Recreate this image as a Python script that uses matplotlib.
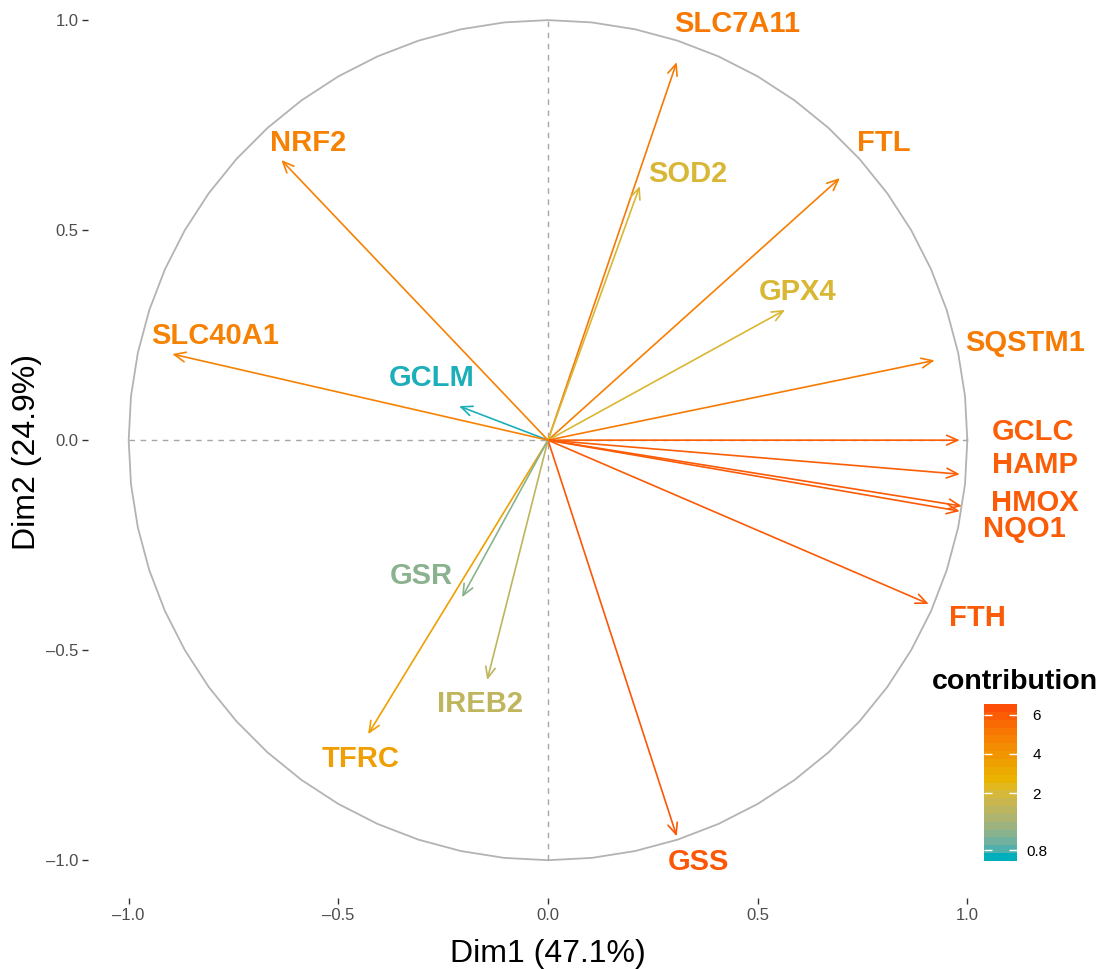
import numpy as np
import matplotlib
matplotlib.use("Agg")
import matplotlib.pyplot as plt
from matplotlib.colors import ListedColormap, FuncNorm, to_rgb
import matplotlib.cm as cm

# ---- data ----
genes = ["SLC7A11", "FTL", "SOD2", "GPX4", "SQSTM1", "GCLC", "HAMP", "HMOX",
         "NQO1", "FTH", "GSS", "IREB2", "TFRC", "GSR", "GCLM", "SLC40A1", "NRF2"]
dim1 = [0.307, 0.696, 0.219, 0.565, 0.922, 0.982, 0.982, 0.987,
        0.982, 0.908, 0.307, -0.145, -0.429, -0.205, -0.212, -0.896, -0.636]
dim2 = [0.900, 0.624, 0.605, 0.310, 0.190, 0.000, -0.081, -0.157,
        -0.169, -0.390, -0.943, -0.571, -0.700, -0.374, 0.081, 0.205, 0.667]
contrib = [5.2, 5.0, 2.0, 2.05, 5.1, 6.1, 6.1, 6.2,
           6.2, 6.2, 6.3, 1.65, 3.66, 1.1, 0.6, 4.85, 4.87]
# label placement (repelled positions)
lab_x = [0.451, 0.801, 0.334, 0.594, 1.137, 1.156, 1.161, 1.161,
         1.137, 1.023, 0.358, -0.162, -0.448, -0.303, -0.277, -0.794, -0.572]
lab_y = [0.990, 0.707, 0.633, 0.352, 0.231, 0.019, -0.060, -0.150,
         -0.212, -0.424, -1.005, -0.629, -0.760, -0.324, 0.148, 0.248, 0.707]
cbar_ticks = [0.8, 2, 4, 6]
cbar_ticklabels = ["0.8", "2", "4", "6"]
grad_colors = ["#00AFBB", "#E7B800", "#FC4E07"]

plt.rcParams['font.family'] = ['Liberation Sans', 'DejaVu Sans']


# ---- Lab-space gradient (like ggplot's gradientn) ----
def _srgb_to_lab(rgb):
    rgb = np.asarray(rgb, float)
    lin = np.where(rgb <= 0.04045, rgb / 12.92, ((rgb + 0.055) / 1.055) ** 2.4)
    M = np.array([[0.4124, 0.3576, 0.1805],
                  [0.2126, 0.7152, 0.0722],
                  [0.0193, 0.1192, 0.9505]])
    xyz = lin @ M.T
    wp = np.array([0.95047, 1.0, 1.08883])
    r = xyz / wp
    f = np.where(r > (6 / 29) ** 3, np.cbrt(r), r / (3 * (6 / 29) ** 2) + 4 / 29)
    L = 116 * f[..., 1] - 16
    a = 500 * (f[..., 0] - f[..., 1])
    b = 200 * (f[..., 1] - f[..., 2])
    return np.stack([L, a, b], -1)


def _lab_to_srgb(lab):
    lab = np.asarray(lab, float)
    fy = (lab[..., 0] + 16) / 116
    fx = fy + lab[..., 1] / 500
    fz = fy - lab[..., 2] / 200
    f = np.stack([fx, fy, fz], -1)
    d = 6 / 29
    r = np.where(f > d, f ** 3, 3 * d ** 2 * (f - 4 / 29))
    xyz = r * np.array([0.95047, 1.0, 1.08883])
    Minv = np.array([[3.2406, -1.5372, -0.4986],
                     [-0.9689, 1.8758, 0.0415],
                     [0.0557, -0.2040, 1.0570]])
    lin = xyz @ Minv.T
    lin = np.clip(lin, 0, 1)
    rgb = np.where(lin <= 0.0031308, 12.92 * lin, 1.055 * lin ** (1 / 2.4) - 0.055)
    return np.clip(rgb, 0, 1)


def lab_cmap(colors, n):
    labs = _srgb_to_lab([to_rgb(c) for c in colors])
    stops = np.linspace(0, 1, len(colors))
    tt = np.linspace(0, 1, n)
    out = np.stack([np.interp(tt, stops, labs[:, k]) for k in range(3)], -1)
    return ListedColormap(_lab_to_srgb(out))


cmap = lab_cmap(grad_colors, 256)
cmap_bar = lab_cmap(grad_colors, 20)

# color guide scale (piecewise)
_vals = np.array([0.57, 0.8, 2.0, 4.0, 6.0, 6.56])
_pos = np.array([0.0, 0.07, 0.433, 0.682, 0.93, 1.0])
def _fwd(v):
    return np.interp(v, _vals, _pos)
def _inv(p):
    return np.interp(p, _pos, _vals)
norm = FuncNorm((_fwd, _inv), vmin=0.57, vmax=6.56)

fig = plt.figure(figsize=(11.02, 9.69), dpi=100)
W, H = 1102, 969
left, right, top, bottom = 88, 1008, 5, 898
ax = fig.add_axes([left / W, 1 - bottom / H, (right - left) / W, (bottom - top) / H])
ax.set_xlim(-1.097, 1.097)
ax.set_ylim(-1.090, 1.036)

# circle
t = np.linspace(0, 2 * np.pi, 61)
ax.plot(np.cos(t), np.sin(t), color="#b3b3b3", lw=1.3, zorder=1)
# dashed axes
ax.plot([-1, 1], [0, 0], color="#a6a6a6", lw=1.0, ls=(0, (4, 4)), zorder=1)
ax.plot([0, 0], [-1, 1], color="#a6a6a6", lw=1.0, ls=(0, (4, 4)), zorder=1)

for g, x, y, c, lx, ly in zip(genes, dim1, dim2, contrib, lab_x, lab_y):
    col = cmap(norm(c))
    ax.annotate("", xy=(x, y), xytext=(0, 0),
                arrowprops=dict(arrowstyle="->,head_length=0.8,head_width=0.35",
                                color=col, lw=1.2, shrinkA=0, shrinkB=0),
                zorder=3)
    ax.text(lx, ly, g, color=col, fontsize=21, fontweight="bold",
            ha="center", va="center", clip_on=False, zorder=4)

for s in ax.spines.values():
    s.set_visible(False)
ticks = [-1.0, -0.5, 0.0, 0.5, 1.0]
labs = [("%.1f" % v).replace("-", "\u2013") for v in ticks]
ax.set_xticks(ticks)
ax.set_xticklabels(labs)
ax.set_yticks(ticks)
ax.set_yticklabels(labs)
ax.tick_params(axis="both", length=4, width=1, color="#333333",
               labelcolor="#4d4d4d", labelsize=12, pad=3)
ax.set_xlabel("Dim1 (47.1%)", fontsize=23, labelpad=12)
ax.set_ylabel("Dim2 (24.9%)", fontsize=23, labelpad=3)

# colorbar
cax = fig.add_axes([984 / W, 1 - 861 / H, 33 / W, 157 / H])
sm = cm.ScalarMappable(norm=norm, cmap=cmap_bar)
cb = fig.colorbar(sm, cax=cax, ticks=cbar_ticks)
cb.set_ticklabels(cbar_ticklabels)
cb.outline.set_visible(False)
cax.tick_params(axis="y", which="both", direction="in", color="white", length=6,
                width=1, left=True, right=True, labelsize=11, pad=14)
for lbl in cax.get_yticklabels():
    lbl.set_horizontalalignment("center")
cax.minorticks_off()
fig.text(932 / W, 1 - 682 / H, "contribution", fontsize=20.5, fontweight="bold",
         ha="left", va="center")

fig.savefig("out.png", dpi=100)
